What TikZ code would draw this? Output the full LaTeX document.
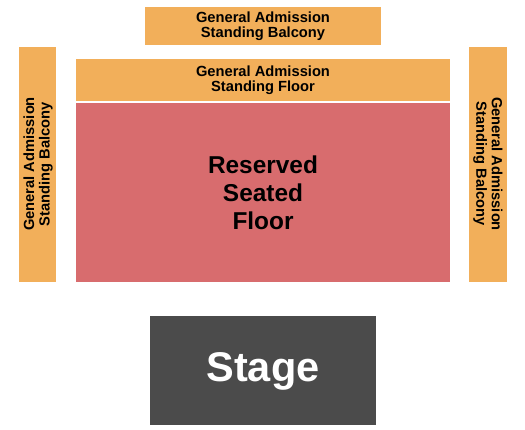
\documentclass[tikz,border=0pt]{standalone}
\usepackage{fontspec}
\setmainfont{Liberation Sans}
\definecolor{ga}{HTML}{F2AF5A}
\definecolor{rs}{HTML}{D86C6E}
\definecolor{stg}{HTML}{4B4B4B}
\tikzset{
  small/.style={font=\bfseries\fontsize{14.7}{15.5}\selectfont, align=center, text=black, inner sep=0pt},
  big/.style={font=\bfseries\fontsize{24.4}{28}\selectfont, align=center, text=black, inner sep=0pt},
}
\begin{document}
\begin{tikzpicture}[x=1pt,y=-1pt]
\useasboundingbox[fill=white] (0,0) rectangle (525,430);
\fill[ga] (145,7) rectangle (381,45);
\node[small] (topbal) at (263,26) {General Admission\\Standing Balcony};
\fill[ga] (76,59) rectangle (450,101);
\node[small] (flr) at (263,80) {General Admission\\Standing Floor};
\fill[rs] (76,103) rectangle (450,282);
\node[big] (res) at (263,193) {Reserved\\Seated\\Floor};
\fill[ga] (19,47) rectangle (56,282);
\node[small, rotate=90] (lbal) at (38,164) {General Admission\\Standing Balcony};
\fill[ga] (469,47) rectangle (507,282);
\node[small, rotate=-90] (rbal) at (488,164) {General Admission\\Standing Balcony};
\fill[stg] (150,316) rectangle (376,425);
\node[font=\bfseries\fontsize{41.5}{45}\selectfont, text=white, inner sep=0pt] (stage) at (263,371) {Stage};
\end{tikzpicture}
\end{document}
